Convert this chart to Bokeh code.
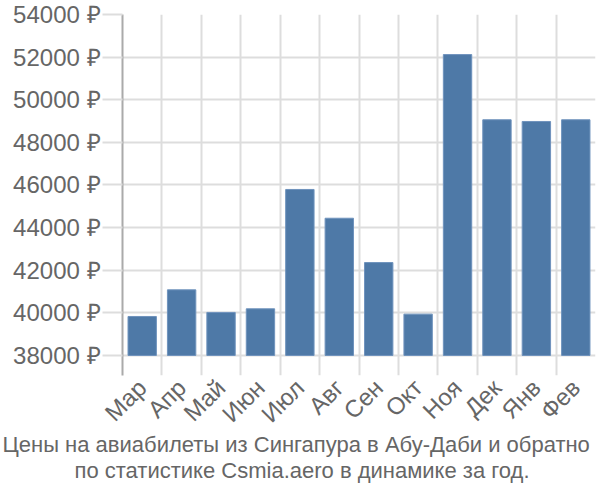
from bokeh.plotting import figure
from bokeh.models import FixedTicker, Range1d, Title, ColumnDataSource
from bokeh.embed import file_html
from bokeh.resources import INLINE
import math

months = ["Мар", "Апр", "Май", "Июн", "Июл", "Авг", "Сен", "Окт", "Ноя", "Дек", "Янв", "Фев"]
prices = [39830, 41080, 40020, 40190, 45790, 44440, 42360, 39940, 52120, 49060, 48980, 49060]
y_ticks = [38000, 40000, 42000, 44000, 46000, 48000, 50000, 52000, 54000]
title_lines = ["Цены на авиабилеты из Сингапура в Абу-Даби и обратно",
               "по статистике Csmia.aero в динамике за год."]

FONT = "Liberation Sans"
TXT = "#666666"
GRID = "#dddddd"

n = len(months)
xs = [i + 0.5 for i in range(n)]
src = ColumnDataSource(dict(x=xs, top=prices, bottom=[y_ticks[0]] * n))

p = figure(frame_width=473, frame_height=361, output_backend="svg", toolbar_location=None,
           x_range=Range1d(0, n), y_range=Range1d(37060, 54000),
           min_border_left=122, min_border_right=5, min_border_top=14, min_border_bottom=0)
p.outline_line_color = None
p.background_fill_color = "white"
p.border_fill_color = "white"

p.vbar(x="x", top="top", bottom="bottom", width=0.72, source=src,
       fill_color="#4e79a7", line_color="#6f93bd", line_width=1)

# y axis
p.yaxis.ticker = FixedTicker(ticks=y_ticks)
p.yaxis.major_label_overrides = {t: f"{t} ₽" for t in y_ticks}
p.yaxis.major_label_text_font = FONT
p.yaxis.major_label_text_font_size = "24px"
p.yaxis.major_label_text_color = TXT
p.yaxis.axis_line_color = "#aaaaaa"
p.yaxis.axis_line_width = 2
p.yaxis.major_tick_line_color = GRID
p.yaxis.major_tick_line_width = 2
p.yaxis.major_tick_out = 20
p.yaxis.major_tick_in = 0
p.yaxis.minor_tick_line_color = None
p.yaxis.major_label_standoff = 2

# x axis
p.xaxis.ticker = FixedTicker(ticks=xs)
p.xaxis.major_label_overrides = {x: m for x, m in zip(xs, months)}
p.xaxis.major_label_orientation = math.pi / 4
p.xaxis.major_label_text_font = FONT
p.xaxis.major_label_text_font_size = "24px"
p.xaxis.major_label_text_color = TXT
p.xaxis.axis_line_color = None
p.xaxis.major_tick_line_color = None
p.xaxis.minor_tick_line_color = None
p.xaxis.major_label_standoff = 2

# grids
p.xgrid.ticker = FixedTicker(ticks=list(range(n + 1)))
p.xgrid.grid_line_color = GRID
p.xgrid.grid_line_width = 2
p.ygrid.ticker = FixedTicker(ticks=y_ticks)
p.ygrid.grid_line_color = GRID
p.ygrid.grid_line_width = 2

offsets = [-120, -48]
standoffs = [-22, 20]
for line, off, so in zip(title_lines, offsets, standoffs):
    t = Title(text=line, align="left", offset=off, text_font=FONT, text_font_size="22px",
              text_color=TXT, text_font_style="normal", standoff=so)
    p.add_layout(t, "below")

open("out.html", "w").write(file_html(p, INLINE))
